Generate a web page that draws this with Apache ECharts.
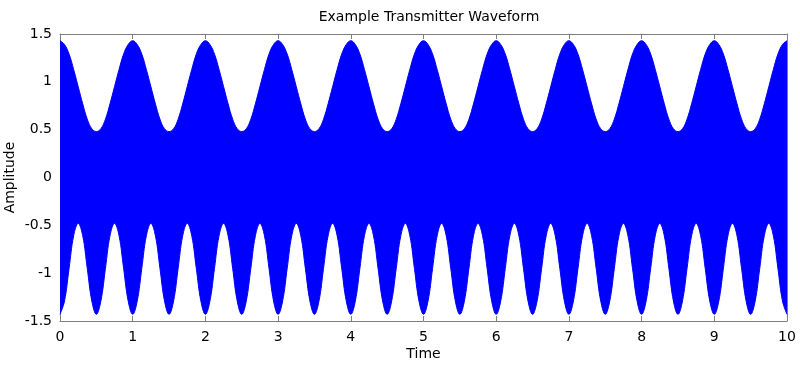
<!DOCTYPE html>
<html><head><meta charset="utf-8">
<script src="https://cdn.jsdelivr.net/npm/echarts@6/dist/echarts.min.js"></script>
<style>html,body{margin:0;padding:0;background:#fff}#c{width:800px;height:365px}</style>
</head><body><div id="c"></div>
<script>
// sample times (step 0.0625) and envelope values
const tStep = 0.0625;
const upperEnvelope = [
1.43,1.39,1.29,1.13,0.95,0.77,0.61,0.51,0.48,0.51,0.61,0.77,0.95,1.13,1.29,1.39,
1.43,1.39,1.29,1.13,0.95,0.77,0.61,0.51,0.48,0.51,0.61,0.77,0.95,1.13,1.29,1.39,
1.43,1.39,1.29,1.13,0.95,0.77,0.61,0.51,0.48,0.51,0.61,0.77,0.95,1.13,1.29,1.39,
1.43,1.39,1.29,1.13,0.95,0.77,0.61,0.51,0.48,0.51,0.61,0.77,0.95,1.13,1.29,1.39,
1.43,1.39,1.29,1.13,0.95,0.77,0.61,0.51,0.48,0.51,0.61,0.77,0.95,1.13,1.29,1.39,
1.43,1.39,1.29,1.13,0.95,0.77,0.61,0.51,0.48,0.51,0.61,0.77,0.95,1.13,1.29,1.39,
1.43,1.39,1.29,1.13,0.95,0.77,0.61,0.51,0.48,0.51,0.61,0.77,0.95,1.13,1.29,1.39,
1.43,1.39,1.29,1.13,0.95,0.77,0.61,0.51,0.48,0.51,0.61,0.77,0.95,1.13,1.29,1.39,
1.43,1.39,1.29,1.13,0.95,0.77,0.61,0.51,0.48,0.51,0.61,0.77,0.95,1.13,1.29,1.39,
1.43,1.39,1.29,1.13,0.95,0.77,0.61,0.51,0.48,0.51,0.61,0.77,0.95,1.13,1.29,1.39,
1.43];
const lowerEnvelope = [
-1.43,-1.29,-0.95,-0.61,-0.48,-0.61,-0.95,-1.29,-1.43,-1.29,-0.95,-0.61,-0.48,-0.61,-0.95,-1.29,
-1.43,-1.29,-0.95,-0.61,-0.48,-0.61,-0.95,-1.29,-1.43,-1.29,-0.95,-0.61,-0.48,-0.61,-0.95,-1.29,
-1.43,-1.29,-0.95,-0.61,-0.48,-0.61,-0.95,-1.29,-1.43,-1.29,-0.95,-0.61,-0.48,-0.61,-0.95,-1.29,
-1.43,-1.29,-0.95,-0.61,-0.48,-0.61,-0.95,-1.29,-1.43,-1.29,-0.95,-0.61,-0.48,-0.61,-0.95,-1.29,
-1.43,-1.29,-0.95,-0.61,-0.48,-0.61,-0.95,-1.29,-1.43,-1.29,-0.95,-0.61,-0.48,-0.61,-0.95,-1.29,
-1.43,-1.29,-0.95,-0.61,-0.48,-0.61,-0.95,-1.29,-1.43,-1.29,-0.95,-0.61,-0.48,-0.61,-0.95,-1.29,
-1.43,-1.29,-0.95,-0.61,-0.48,-0.61,-0.95,-1.29,-1.43,-1.29,-0.95,-0.61,-0.48,-0.61,-0.95,-1.29,
-1.43,-1.29,-0.95,-0.61,-0.48,-0.61,-0.95,-1.29,-1.43,-1.29,-0.95,-0.61,-0.48,-0.61,-0.95,-1.29,
-1.43,-1.29,-0.95,-0.61,-0.48,-0.61,-0.95,-1.29,-1.43,-1.29,-0.95,-0.61,-0.48,-0.61,-0.95,-1.29,
-1.43,-1.29,-0.95,-0.61,-0.48,-0.61,-0.95,-1.29,-1.43,-1.29,-0.95,-0.61,-0.48,-0.61,-0.95,-1.29,
-1.43];
const xTicks = [0,1,2,3,4,5,6,7,8,9,10];
const yTicks = [-1.5,-1,-0.5,0,0.5,1,1.5];
const titleText = 'Example Transmitter Waveform';
const xName = 'Time';
const yName = 'Amplitude';

const upperData = upperEnvelope.map((v,i)=>[i*tStep, v]);
const lowerData = lowerEnvelope.map((v,i)=>[i*tStep, v]);

const font = '"DejaVu Sans", Arial, sans-serif';
const axisCol = '#7f7f7f';
const blue = '#0000ff';
const chart = echarts.init(document.getElementById('c'), null, {renderer:'canvas'});
const baseX = {
  type:'value', min:xTicks[0], max:xTicks[xTicks.length-1], interval:1,
  axisLine:{show:true,onZero:false,lineStyle:{color:axisCol,width:1}},
  axisTick:{show:true,inside:true,length:5,lineStyle:{color:axisCol}},
  splitLine:{show:false}
};
const baseY = {
  type:'value', min:yTicks[0], max:yTicks[yTicks.length-1], interval:0.5,
  axisLine:{show:true,onZero:false,lineStyle:{color:axisCol,width:1}},
  axisTick:{show:true,inside:true,length:5,lineStyle:{color:axisCol}},
  splitLine:{show:false}
};
chart.setOption({
  animation:false,
  backgroundColor:'#fff',
  title:{text:titleText,left:424,textAlign:'center',top:5,
    textStyle:{fontFamily:font,fontSize:14,fontWeight:'normal',color:'#000'}},
  grid:{left:60,right:13,top:34,bottom:44,containLabel:false,outerBoundsMode:'none'},
  xAxis:[
    Object.assign({},baseX,{position:'bottom',name:xName,nameLocation:'middle',nameGap:26,
      nameMoveOverlap:false,
      nameTextStyle:{fontFamily:font,fontSize:14,color:'#000'},
      axisLabel:{fontFamily:font,fontSize:14,color:'#000',margin:9}}),
    Object.assign({},baseX,{position:'top',axisLabel:{show:false}})
  ],
  yAxis:[
    Object.assign({},baseY,{position:'left',name:yName,nameLocation:'middle',nameGap:43,
      nameMoveOverlap:false,
      nameTextStyle:{fontFamily:font,fontSize:14,color:'#000'},
      axisLabel:{fontFamily:font,fontSize:14,color:'#000',margin:8,
        formatter:v=>String(v)}}),
    Object.assign({},baseY,{position:'right',axisLabel:{show:false}})
  ],
  series:[
    {type:'line',data:upperData,showSymbol:false,smooth:0.4,
     lineStyle:{color:blue,width:1},areaStyle:{color:blue,opacity:1,origin:0},z:2,
     markLine:{silent:true,symbol:'none',label:{show:false},
       lineStyle:{color:blue,width:3,type:'solid'},data:[{yAxis:0}]}},
    {type:'line',data:lowerData,showSymbol:false,smooth:0.4,
     lineStyle:{color:blue,width:1},areaStyle:{color:blue,opacity:1,origin:0},z:2}
  ]
});
</script></body></html>
